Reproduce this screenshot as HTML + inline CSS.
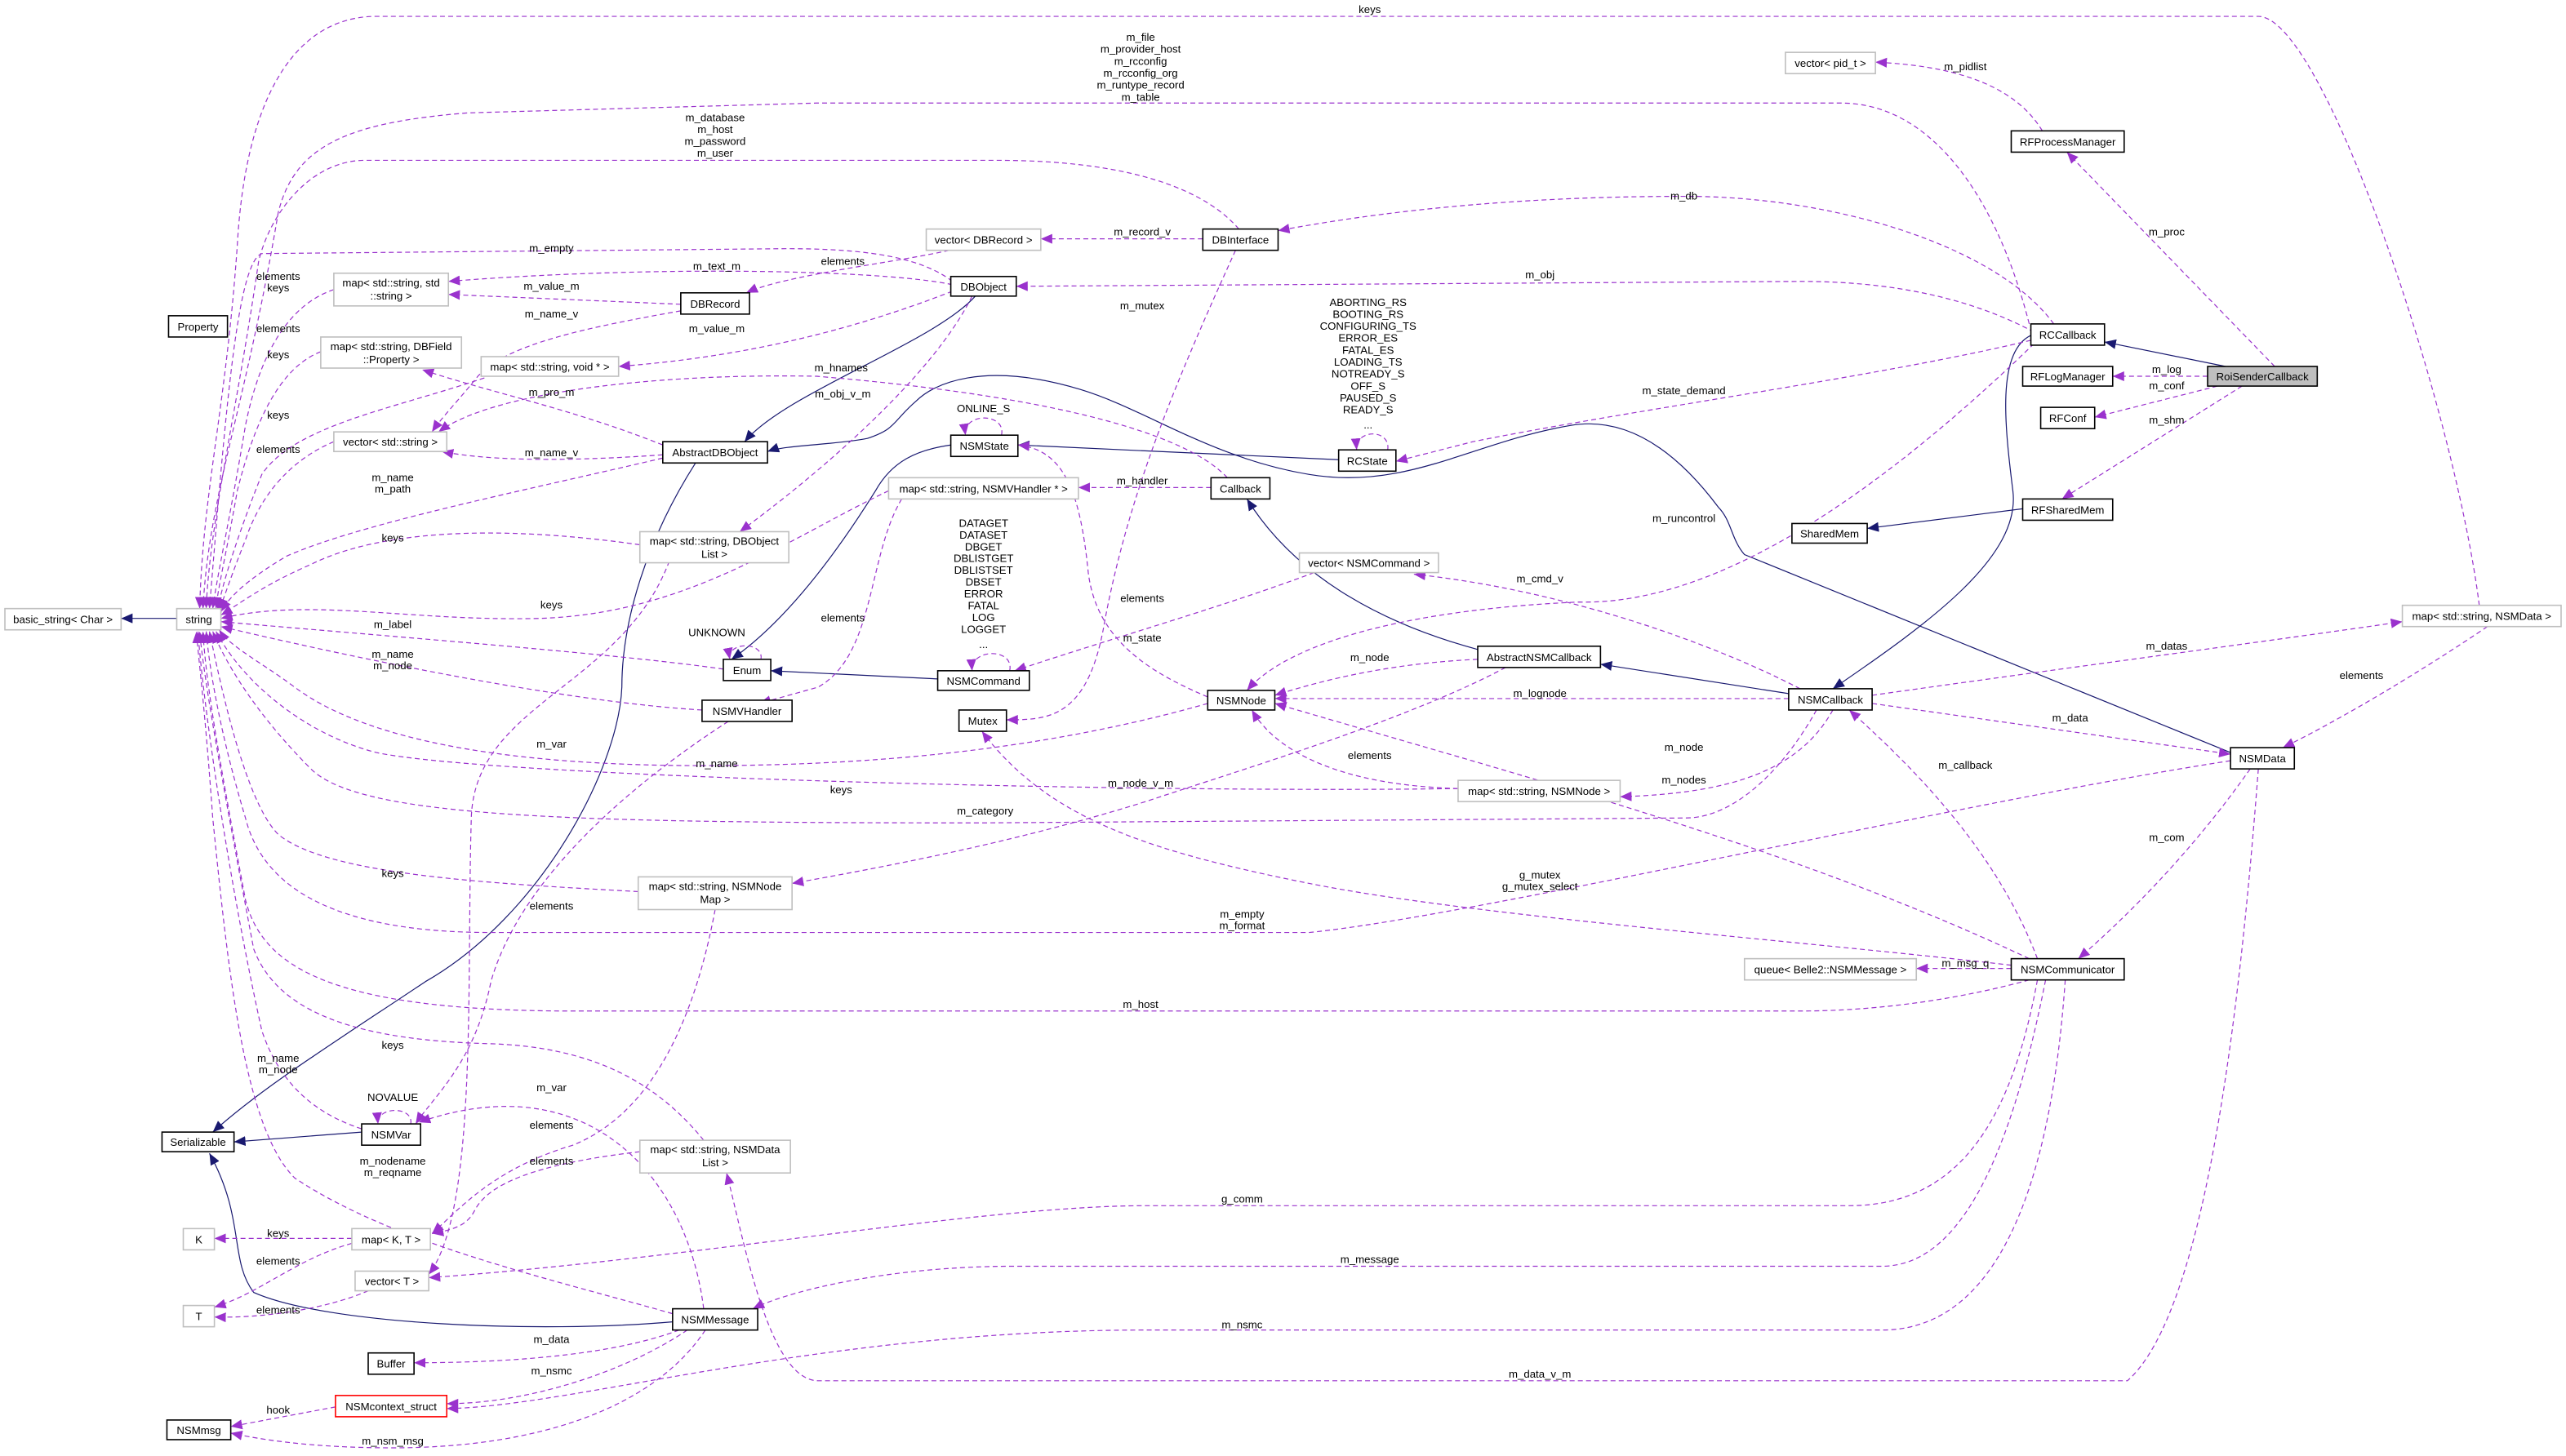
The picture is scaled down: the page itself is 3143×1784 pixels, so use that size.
<!DOCTYPE html>
<html><head><meta charset="utf-8"><style>
html,body{margin:0;padding:0;background:#fff;}
svg{display:block;}
text{font-family:"Liberation Sans",Arial,sans-serif;font-size:6.6px;fill:#000;}
.e{fill:none;stroke:#9a32cd;stroke-width:0.6;stroke-dasharray:3,2;marker-end:url(#pa);}
.i{fill:none;stroke:#191970;stroke-width:0.6;marker-end:url(#na);}
.nb{fill:#fff;stroke:#000;stroke-width:0.8;}
.ng{fill:#fff;stroke:#bfbfbf;stroke-width:0.8;}
.nr{fill:#fff;stroke:#ff0000;stroke-width:0.8;}
.nf{fill:#bfbfbf;stroke:#000;stroke-width:0.8;}
</style></head><body>
<svg width="3143" height="1784" viewBox="0 0 1568 890" preserveAspectRatio="none" xmlns="http://www.w3.org/2000/svg">
<defs>
<marker id="pa" markerUnits="userSpaceOnUse" markerWidth="8" markerHeight="7" refX="7" refY="3" orient="auto"><path d="M0,0 L7,3 L0,6 z" fill="#9a32cd"/></marker>
<marker id="na" markerUnits="userSpaceOnUse" markerWidth="8" markerHeight="7" refX="7" refY="3" orient="auto"><path d="M0,0 L7,3 L0,6 z" fill="#191970"/></marker>
</defs>
<rect width="1568" height="890" fill="#fff"/>

<!-- inheritance -->
<path class="i" d="M108,378 L74,378"/>
<path class="i" d="M596,181 C570,210 480,240 455,270"/>
<path class="i" d="M1363,460 L1066,339 C1058,330 1058,318 1050,310 C1020,270 990,255 960,260 C900,270 860,300 800,290 C740,280 700,250 660,238 C600,220 570,235 560,245 C545,258 548,262 530,268 C510,272 480,272 469,276"/>
<path class="i" d="M425,283 C395,330 380,380 380,420 C378,470 330,560 260,600 C200,640 160,665 130,692"/>
<path class="i" d="M581,272 C560,275 545,282 535,300 C510,340 480,380 447,403"/>
<path class="i" d="M818,281 L622,272"/>
<path class="i" d="M573,415 L471,410"/>
<path class="i" d="M903,397 C840,380 790,350 762,305"/>
<path class="i" d="M1093,424 L978,406"/>
<path class="i" d="M1241,205 C1220,215 1225,260 1230,300 C1235,340 1180,380 1120,421"/>
<path class="i" d="M1360,224 L1286,209"/>
<path class="i" d="M1236,311 L1141,323"/>
<path class="i" d="M221,692 L143,698"/>
<path class="i" d="M411,808 C330,815 200,810 155,790 C140,770 150,745 128,705"/>

<!-- dashed: into string top -->
<path class="e" d="M1515,370 C1500,250 1420,10 1380,10 L230,10 C180,10 150,60 145,150 C138,250 124,300 122,372"/>
<path class="e" d="M1240,198 C1220,120 1180,63 1125,63 L499,63 L286,69 C210,75 180,90 170,130 C150,250 128,300 124,372"/>
<path class="e" d="M757,140 C740,120 700,98 609,98 L223,98 C190,98 165,130 158,160 C145,250 128,320 126,372"/>
<path class="e" d="M582,172 C560,155 520,152 480,152 L160,155 C145,160 138,250 128,372"/>
<path class="e" d="M204,177 C180,185 160,210 150,260 C140,320 133,350 130,372"/>
<path class="e" d="M196,215 C170,225 155,260 145,300 C138,340 133,360 132,372"/>
<path class="e" d="M296,231 C240,250 180,260 160,290 C148,320 136,355 133,373"/>
<path class="e" d="M204,270 C180,280 160,300 150,330 C142,350 137,365 134,373"/>
<path class="e" d="M405,280 C320,300 220,320 175,340 C150,355 140,365 135,374"/>
<path class="e" d="M391,333 C300,320 230,325 190,345 C160,358 145,370 135,376"/>
<!-- into string right -->
<path class="e" d="M543,300 C480,330 420,375 330,378 C250,380 190,365 135,378"/>
<path class="e" d="M442,409 C380,400 250,390 135,380"/>
<path class="e" d="M429,434 C360,430 250,410 135,383"/>
<!-- into string bottom -->
<path class="e" d="M738,430 C650,455 550,468 430,468 C300,468 220,450 180,420 C160,405 140,395 134,385"/>
<path class="e" d="M891,482 C700,485 300,475 230,460 C190,450 150,420 132,386"/>
<path class="e" d="M1110,434 C1090,470 1060,500 1030,500 L600,503 C350,503 220,500 190,470 C160,440 140,410 130,386"/>
<path class="e" d="M390,545 C300,540 200,535 170,510 C150,490 135,420 128,386"/>
<path class="e" d="M1363,465 C1200,490 900,560 800,570 L300,570 C200,570 160,540 150,500 C135,450 128,410 126,386"/>
<path class="e" d="M1240,599 C1200,610 1150,618 1100,618 L350,618 C200,618 160,590 150,550 C135,470 126,420 124,386"/>
<path class="e" d="M430,697 C400,660 360,640 300,638 C220,636 170,620 155,580 C140,500 125,420 122,386"/>
<path class="e" d="M221,690 C190,680 170,660 160,630 C140,540 124,430 121,386"/>
<path class="e" d="M411,803 C330,780 240,760 180,720 C150,690 140,600 130,500 C125,430 121,400 120,386"/>

<!-- other dashed -->
<path class="e" d="M582,174 C540,165 400,162 274,172"/>
<path class="e" d="M416,186 L274,180"/>
<path class="e" d="M580,153 C550,160 480,168 456,179"/>
<path class="e" d="M735,146 L636,146"/>
<path class="e" d="M1255,198 C1220,150 1120,120 1030,120 C920,120 840,130 781,141"/>
<path class="e" d="M1243,203 C1200,180 1150,172 1100,172 L621,175"/>
<path class="e" d="M416,190 C360,200 310,210 292,230 C280,245 270,255 264,264"/>
<path class="e" d="M582,178 C500,210 430,220 378,224"/>
<path class="e" d="M1241,208 C1150,230 1000,250 900,270 L853,282"/>
<path class="e" d="M405,272 C350,250 300,240 258,226"/>
<path class="e" d="M750,292 C720,260 620,240 499,230 C400,228 300,240 268,264"/>
<path class="e" d="M405,278 C350,282 300,282 270,276"/>
<path class="e" d="M594,181 C570,230 500,290 452,325"/>
<path class="e" d="M740,298 L659,298"/>
<path class="e" d="M551,305 C530,340 535,400 500,420 L464,430"/>
<path class="e" d="M755,153 C720,230 690,300 675,380 C665,440 640,440 615,440"/>
<path class="e" d="M738,426 C700,410 670,390 665,350 C660,300 650,275 622,272"/>
<path class="e" d="M803,350 C750,370 680,390 620,410"/>
<path class="e" d="M1100,421 C1040,390 950,360 864,351"/>
<path class="e" d="M1243,210 C1150,300 1050,370 965,368 C870,372 790,390 762,422"/>
<path class="e" d="M903,403 C860,405 820,412 779,425"/>
<path class="e" d="M1093,427 L779,427"/>
<path class="e" d="M1240,586 C1100,520 950,480 779,430"/>
<path class="e" d="M891,482 C820,480 780,460 765,434"/>
<path class="e" d="M1120,434 C1100,470 1060,485 990,487"/>
<path class="e" d="M920,408 C860,440 760,470 700,490 C620,515 540,530 484,540"/>
<path class="e" d="M445,441 C400,470 320,530 300,600 C290,650 265,670 254,687"/>
<path class="e" d="M437,556 C425,620 400,680 350,700 C300,715 280,740 264,754"/>
<path class="e" d="M409,343 C380,420 290,430 288,500 C285,600 292,740 262,779"/>
<path class="e" d="M430,800 C420,720 360,650 256,686"/>
<path class="e" d="M391,704 C340,710 300,720 290,740 C285,750 275,752 264,754"/>
<path class="e" d="M215,757 L131,757"/>
<path class="e" d="M215,760 C180,770 160,790 131,799"/>
<path class="e" d="M225,789 C200,800 160,806 131,805"/>
<path class="e" d="M415,813 C370,830 300,833 253,833"/>
<path class="e" d="M420,813 C380,840 320,858 273,858"/>
<path class="e" d="M1262,599 C1255,700 1230,813 1150,813 L700,813 C500,813 350,860 273,861"/>
<path class="e" d="M205,860 L141,872"/>
<path class="e" d="M431,813 C400,860 330,885 240,885 C190,885 160,880 141,876"/>
<path class="e" d="M1380,470 C1370,600 1350,800 1300,844 L500,844 C470,844 455,760 444,717"/>
<path class="e" d="M1250,599 C1230,700 1200,774 1150,774 L620,774 C540,774 480,790 460,800"/>
<path class="e" d="M1245,599 C1230,680 1200,737 1130,737 L700,737 C600,737 420,770 262,781"/>
<path class="e" d="M1229,590 C1100,575 900,560 800,540 C700,520 640,500 600,447"/>
<path class="e" d="M1245,586 C1220,520 1170,470 1130,434"/>
<path class="e" d="M1375,470 C1340,520 1300,560 1270,586"/>
<path class="e" d="M1229,592 L1171,592"/>
<path class="e" d="M1144,430 L1363,461"/>
<path class="e" d="M1144,425 C1250,410 1400,390 1468,380"/>
<path class="e" d="M1520,383 C1480,410 1430,440 1395,457"/>
<path class="e" d="M1390,224 L1263,93"/>
<path class="e" d="M1248,80 C1230,50 1190,40 1146,38"/>
<path class="e" d="M1349,230 L1291,230"/>
<path class="e" d="M1355,236 L1280,255"/>
<path class="e" d="M1370,236 L1260,305"/>
<!-- self loops -->
<path class="e" d="M612,266 C615,252 588,252 590,266"/>
<path class="e" d="M848,275 C850,262 828,262 829,275"/>
<path class="e" d="M617,410 C620,396 593,396 594,410"/>
<path class="e" d="M465,403 C467,392 444,392 446,403"/>
<path class="e" d="M251,687 C253,676 230,676 231,687"/>

<!-- nodes -->
<g>
<rect class="ng" x="3" y="372" width="71" height="13"/><text x="38.5" y="381" text-anchor="middle">basic_string&lt; Char &gt;</text>
<rect class="ng" x="108" y="372" width="27" height="13"/><text x="121.5" y="381" text-anchor="middle">string</text>
<rect class="nb" x="103" y="193" width="36" height="13"/><text x="121" y="202" text-anchor="middle">Property</text>
<rect class="ng" x="204" y="167" width="70" height="20"/><text x="239" y="175" text-anchor="middle">map&lt; std::string, std</text><text x="239" y="183" text-anchor="middle">::string &gt;</text>
<rect class="ng" x="196" y="206" width="86" height="19"/><text x="239" y="214" text-anchor="middle">map&lt; std::string, DBField</text><text x="239" y="222" text-anchor="middle">::Property &gt;</text>
<rect class="ng" x="204" y="264" width="69" height="12"/><text x="238.5" y="272.5" text-anchor="middle">vector&lt; std::string &gt;</text>
<rect class="nb" x="416" y="179" width="42" height="13"/><text x="437" y="188" text-anchor="middle">DBRecord</text>
<rect class="ng" x="294" y="218" width="84" height="12"/><text x="336" y="226.5" text-anchor="middle">map&lt; std::string, void * &gt;</text>
<rect class="ng" x="566" y="140" width="70" height="13"/><text x="601" y="149" text-anchor="middle">vector&lt; DBRecord &gt;</text>
<rect class="nb" x="735" y="140" width="46" height="13"/><text x="758" y="149" text-anchor="middle">DBInterface</text>
<rect class="nb" x="581" y="169" width="40" height="12"/><text x="601" y="177.5" text-anchor="middle">DBObject</text>
<rect class="nb" x="405" y="270" width="64" height="13"/><text x="437" y="279" text-anchor="middle">AbstractDBObject</text>
<rect class="ng" x="391" y="325" width="91" height="19"/><text x="436.5" y="333" text-anchor="middle">map&lt; std::string, DBObject</text><text x="436.5" y="341" text-anchor="middle">List &gt;</text>
<rect class="nb" x="581" y="266" width="41" height="13"/><text x="601.5" y="275" text-anchor="middle">NSMState</text>
<rect class="nb" x="818" y="275" width="35" height="13"/><text x="835.5" y="284" text-anchor="middle">RCState</text>
<rect class="ng" x="543" y="292" width="116" height="13"/><text x="601" y="301" text-anchor="middle">map&lt; std::string, NSMVHandler * &gt;</text>
<rect class="nb" x="740" y="292" width="36" height="13"/><text x="758" y="301" text-anchor="middle">Callback</text>
<rect class="ng" x="794" y="338" width="85" height="12"/><text x="836.5" y="346.5" text-anchor="middle">vector&lt; NSMCommand &gt;</text>
<rect class="nb" x="573" y="410" width="56" height="12"/><text x="601" y="418.5" text-anchor="middle">NSMCommand</text>
<rect class="nb" x="442" y="403" width="29" height="13"/><text x="456.5" y="412" text-anchor="middle">Enum</text>
<rect class="nb" x="429" y="428" width="55" height="13"/><text x="456.5" y="437" text-anchor="middle">NSMVHandler</text>
<rect class="nb" x="586" y="434" width="29" height="13"/><text x="600.5" y="443" text-anchor="middle">Mutex</text>
<rect class="nb" x="738" y="422" width="41" height="12"/><text x="758.5" y="430.5" text-anchor="middle">NSMNode</text>
<rect class="nb" x="903" y="395" width="75" height="13"/><text x="940.5" y="404" text-anchor="middle">AbstractNSMCallback</text>
<rect class="nb" x="1093" y="421" width="51" height="13"/><text x="1118.5" y="430" text-anchor="middle">NSMCallback</text>
<rect class="ng" x="891" y="477" width="99" height="13"/><text x="940.5" y="486" text-anchor="middle">map&lt; std::string, NSMNode &gt;</text>
<rect class="ng" x="390" y="536" width="94" height="20"/><text x="437" y="544" text-anchor="middle">map&lt; std::string, NSMNode</text><text x="437" y="552" text-anchor="middle">Map &gt;</text>
<rect class="nb" x="1241" y="198" width="45" height="13"/><text x="1263.5" y="207" text-anchor="middle">RCCallback</text>
<rect class="nb" x="1236" y="224" width="55" height="12"/><text x="1263.5" y="232.5" text-anchor="middle">RFLogManager</text>
<rect class="nb" x="1247" y="249" width="33" height="13"/><text x="1263.5" y="258" text-anchor="middle">RFConf</text>
<rect class="nf" x="1349" y="224" width="67" height="12"/><text x="1382.5" y="232.5" text-anchor="middle">RoiSenderCallback</text>
<rect class="nb" x="1236" y="305" width="55" height="13"/><text x="1263.5" y="314" text-anchor="middle">RFSharedMem</text>
<rect class="nb" x="1095" y="320" width="46" height="12"/><text x="1118" y="328.5" text-anchor="middle">SharedMem</text>
<rect class="nb" x="1229" y="80" width="69" height="13"/><text x="1263.5" y="89" text-anchor="middle">RFProcessManager</text>
<rect class="ng" x="1091" y="32" width="55" height="13"/><text x="1118.5" y="41" text-anchor="middle">vector&lt; pid_t &gt;</text>
<rect class="ng" x="1468" y="370" width="97" height="13"/><text x="1516.5" y="379" text-anchor="middle">map&lt; std::string, NSMData &gt;</text>
<rect class="nb" x="1363" y="457" width="39" height="13"/><text x="1382.5" y="466" text-anchor="middle">NSMData</text>
<rect class="ng" x="1066" y="586" width="105" height="13"/><text x="1118.5" y="595" text-anchor="middle">queue&lt; Belle2::NSMMessage &gt;</text>
<rect class="nb" x="1229" y="586" width="69" height="13"/><text x="1263.5" y="595" text-anchor="middle">NSMCommunicator</text>
<rect class="nb" x="99" y="692" width="44" height="12"/><text x="121" y="700.5" text-anchor="middle">Serializable</text>
<rect class="nb" x="221" y="687" width="36" height="13"/><text x="239" y="696" text-anchor="middle">NSMVar</text>
<rect class="ng" x="391" y="697" width="92" height="20"/><text x="437" y="705" text-anchor="middle">map&lt; std::string, NSMData</text><text x="437" y="713" text-anchor="middle">List &gt;</text>
<rect class="ng" x="112" y="751" width="19" height="13"/><text x="121.5" y="760" text-anchor="middle">K</text>
<rect class="ng" x="215" y="751" width="48" height="13"/><text x="239" y="760" text-anchor="middle">map&lt; K, T &gt;</text>
<rect class="ng" x="217" y="777" width="45" height="12"/><text x="239.5" y="785.5" text-anchor="middle">vector&lt; T &gt;</text>
<rect class="ng" x="112" y="798" width="19" height="13"/><text x="121.5" y="807" text-anchor="middle">T</text>
<rect class="nb" x="411" y="800" width="52" height="13"/><text x="437" y="809" text-anchor="middle">NSMMessage</text>
<rect class="nb" x="225" y="827" width="28" height="13"/><text x="239" y="836" text-anchor="middle">Buffer</text>
<rect class="nr" x="205" y="853" width="68" height="13"/><text x="239" y="862" text-anchor="middle">NSMcontext_struct</text>
<rect class="nb" x="102" y="868" width="39" height="12"/><text x="121.5" y="876.5" text-anchor="middle">NSMmsg</text>
</g>

<!-- edge labels -->
<g text-anchor="middle">
<text x="837" y="8">keys</text>
<text x="697" y="25">m_file</text><text x="697" y="32.3">m_provider_host</text><text x="697" y="39.6">m_rcconfig</text><text x="697" y="46.9">m_rcconfig_org</text><text x="697" y="54.2">m_runtype_record</text><text x="697" y="61.5">m_table</text>
<text x="437" y="74">m_database</text><text x="437" y="81.3">m_host</text><text x="437" y="88.6">m_password</text><text x="437" y="95.9">m_user</text>
<text x="1201" y="43">m_pidlist</text>
<text x="1029" y="122">m_db</text>
<text x="698" y="144">m_record_v</text>
<text x="1324" y="144">m_proc</text>
<text x="337" y="154">m_empty</text>
<text x="515" y="162">elements</text>
<text x="438" y="165">m_text_m</text>
<text x="941" y="170">m_obj</text>
<text x="170" y="171">elements</text><text x="170" y="178">keys</text>
<text x="337" y="177">m_value_m</text>
<text x="698" y="189">m_mutex</text>
<text x="836" y="187">ABORTING_RS</text><text x="836" y="194.3">BOOTING_RS</text><text x="836" y="201.6">CONFIGURING_TS</text><text x="836" y="208.9">ERROR_ES</text><text x="836" y="216.2">FATAL_ES</text><text x="836" y="223.5">LOADING_TS</text><text x="836" y="230.8">NOTREADY_S</text><text x="836" y="238.1">OFF_S</text><text x="836" y="245.4">PAUSED_S</text><text x="836" y="252.7">READY_S</text><text x="836" y="262">...</text>
<text x="337" y="194">m_name_v</text>
<text x="170" y="203">elements</text>
<text x="438" y="203">m_value_m</text>
<text x="170" y="219">keys</text>
<text x="514" y="227">m_hnames</text>
<text x="1324" y="228">m_log</text>
<text x="1324" y="238">m_conf</text>
<text x="1029" y="241">m_state_demand</text>
<text x="337" y="242">m_pro_m</text>
<text x="515" y="243">m_obj_v_m</text>
<text x="601" y="252">ONLINE_S</text>
<text x="170" y="256">keys</text>
<text x="1324" y="259">m_shm</text>
<text x="170" y="277">elements</text>
<text x="337" y="279">m_name_v</text>
<text x="240" y="294">m_name</text><text x="240" y="301">m_path</text>
<text x="698" y="296">m_handler</text>
<text x="1029" y="319">m_runcontrol</text>
<text x="601" y="322">DATAGET</text><text x="601" y="329.2">DATASET</text><text x="601" y="336.4">DBGET</text><text x="601" y="343.6">DBLISTGET</text><text x="601" y="350.8">DBLISTSET</text><text x="601" y="358">DBSET</text><text x="601" y="365.2">ERROR</text><text x="601" y="372.4">FATAL</text><text x="601" y="379.6">LOG</text><text x="601" y="386.8">LOGGET</text><text x="601" y="396">...</text>
<text x="240" y="331">keys</text>
<text x="941" y="356">m_cmd_v</text>
<text x="698" y="368">elements</text>
<text x="337" y="372">keys</text>
<text x="515" y="380">elements</text>
<text x="438" y="389">UNKNOWN</text>
<text x="240" y="384">m_label</text>
<text x="698" y="392">m_state</text>
<text x="1324" y="397">m_datas</text>
<text x="240" y="402">m_name</text><text x="240" y="409">m_node</text>
<text x="837" y="404">m_node</text>
<text x="1443" y="415">elements</text>
<text x="941" y="426">m_lognode</text>
<text x="1265" y="441">m_data</text>
<text x="337" y="457">m_var</text>
<text x="1029" y="459">m_node</text>
<text x="837" y="464">elements</text>
<text x="438" y="469">m_name</text>
<text x="1201" y="470">m_callback</text>
<text x="1029" y="479">m_nodes</text>
<text x="697" y="481">m_node_v_m</text>
<text x="514" y="485">keys</text>
<text x="602" y="498">m_category</text>
<text x="1324" y="514">m_com</text>
<text x="941" y="537">g_mutex</text><text x="941" y="544">g_mutex_select</text>
<text x="240" y="536">keys</text>
<text x="337" y="556">elements</text>
<text x="759" y="561">m_empty</text><text x="759" y="568">m_format</text>
<text x="1201" y="591">m_msg_q</text>
<text x="697" y="616">m_host</text>
<text x="240" y="641">keys</text>
<text x="170" y="649">m_name</text><text x="170" y="656">m_node</text>
<text x="337" y="667">m_var</text>
<text x="240" y="673">NOVALUE</text>
<text x="337" y="690">elements</text>
<text x="240" y="712">m_nodename</text><text x="240" y="719">m_reqname</text>
<text x="337" y="712">elements</text>
<text x="759" y="735">g_comm</text>
<text x="170" y="756">keys</text>
<text x="837" y="772">m_message</text>
<text x="170" y="773">elements</text>
<text x="170" y="803">elements</text>
<text x="759" y="812">m_nsmc</text>
<text x="337" y="821">m_data</text>
<text x="337" y="840">m_nsmc</text>
<text x="941" y="842">m_data_v_m</text>
<text x="170" y="864">hook</text>
<text x="240" y="883">m_nsm_msg</text>
</g>
</svg>
</body></html>
